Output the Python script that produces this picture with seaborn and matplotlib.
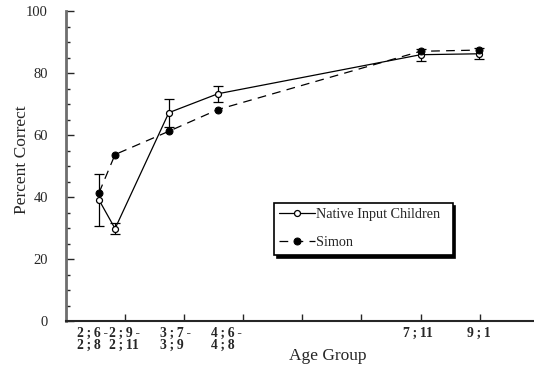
import seaborn as sns
import pandas as pd
import matplotlib.pyplot as plt
from matplotlib.ticker import MultipleLocator

# values
age_pos = [0.56, 0.83, 1.74, 2.57, 6.0, 6.99]
native = [39.0, 29.8, 67.2, 73.3, 85.9, 86.2]
native_err = [8.5, 1.7, 4.5, 2.5, 2.0, 1.8]
simon = [41.4, 53.7, 61.2, 68.2, 87.0, 87.4]

sp = "\u2009"
age_labels = ["2;6-\n2;8", "2;9-\n2;11", "3;7-\n3;9", "4;6-\n4;8", "7;11", "9;1"]
# a little letter spacing like the original print
age_labels = [lab.replace(";", sp + ";" + sp).replace("-", sp + "-") for lab in age_labels]
label_pos = [0.19, 0.73, 1.59, 2.45, 5.70, 6.79]

df = pd.DataFrame({"age": age_pos, "native": native, "simon": simon})

sns.set_style("ticks")
plt.rcParams["font.family"] = ["Liberation Serif", "DejaVu Serif"]

fig = plt.figure(figsize=(5.34, 3.74), dpi=100)
ax = fig.add_axes([66 / 534, 53 / 374, 468 / 534, 310 / 374])

ax.errorbar(age_pos, native, yerr=native_err, fmt="none", ecolor="black",
            elinewidth=0.9, capsize=3.6, capthick=0.9, zorder=2)
sns.lineplot(data=df, x="age", y="native", ax=ax, color="black", lw=0.9,
             marker="o", markersize=4.3, markerfacecolor="white",
             markeredgecolor="black", markeredgewidth=0.9,
             label="Native Input Children", zorder=3)
sns.lineplot(data=df, x="age", y="simon", ax=ax, color="black", lw=0.9,
             dashes=(7, 5), marker="o", markersize=5, markerfacecolor="black",
             markeredgecolor="black", label="Simon", zorder=3)

ax.set_xlim(0, 7.92)
ax.set_ylim(0, 100)
ax.yaxis.set_major_locator(MultipleLocator(20))
ax.yaxis.set_minor_locator(MultipleLocator(5))
ax.tick_params(axis="y", which="major", direction="in", length=6, width=1,
               pad=13, labelsize=10.5)
ax.tick_params(axis="y", which="minor", direction="in", length=3, width=1)

ax.set_xticks(range(1, 8))
ax.set_xticklabels([])
ax.tick_params(axis="x", which="major", direction="in", length=5, width=1)
ax.set_xticks(label_pos, age_labels, minor=True)
ax.tick_params(axis="x", which="minor", length=0, pad=4.5)
for t in ax.get_xticklabels(minor=True):
    t.set_ha("left")
    t.set_fontweight("bold")
    t.set_fontsize(9.8)
    t.set_linespacing(0.9)

for s in ["top", "right"]:
    ax.spines[s].set_visible(False)
ax.spines["left"].set_color("#6e6e6e")
ax.spines["left"].set_linewidth(2)
ax.spines["bottom"].set_linewidth(1.5)

ax.set_ylabel("Percent Correct", fontsize=12.5)
ax.yaxis.set_label_coords(-0.077, 0.52)
ax.set_xlabel("Age Group", fontsize=12.5)
ax.xaxis.set_label_coords(0.56, -0.087)

leg = ax.legend(loc="lower left", bbox_to_anchor=(0.444, 0.213, 0.382, 0.175),
                mode="expand", frameon=True, fancybox=False, fontsize=10.2,
                handlelength=2.5, handletextpad=0.1, labelspacing=1.05,
                borderaxespad=0, borderpad=0.4,
                shadow={"color": "black", "alpha": 1})
leg.get_frame().set_edgecolor("black")
leg.get_frame().set_linewidth(1.2)
leg.get_frame().set_alpha(1)

fig.savefig("out.png", dpi=100)
